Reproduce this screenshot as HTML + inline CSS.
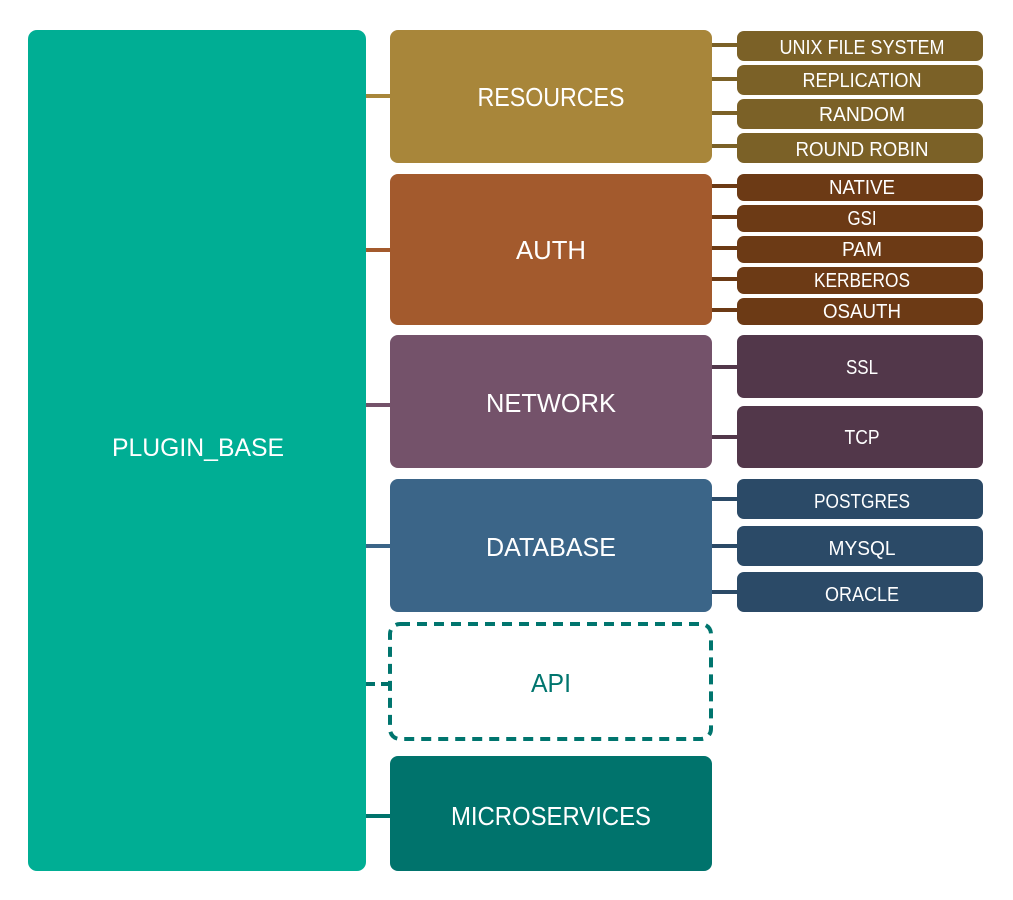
<!DOCTYPE html>
<html><head><meta charset="utf-8"><style>html,body{margin:0;padding:0;background:#fff}svg{display:block}</style></head>
<body>
<svg width="1013" height="900" viewBox="0 0 1013 900" xmlns="http://www.w3.org/2000/svg" font-family="Liberation Sans, sans-serif" text-anchor="middle">
<rect x="28" y="30" width="338" height="841" rx="9" fill="#00ae94"/>
<text x="198" y="456" font-size="25" fill="#fff" textLength="172" lengthAdjust="spacingAndGlyphs">PLUGIN_BASE</text>

<g stroke-width="4">
<line x1="366" y1="96" x2="390" y2="96" stroke="#a8863a"/>
<line x1="366" y1="250" x2="390" y2="250" stroke="#a35a2d"/>
<line x1="366" y1="405" x2="390" y2="405" stroke="#74526a"/>
<line x1="366" y1="546" x2="390" y2="546" stroke="#3b6588"/>
<line x1="366" y1="684" x2="390" y2="684" stroke="#00736c" stroke-dasharray="9,6"/>
<line x1="366" y1="816" x2="390" y2="816" stroke="#00736c"/>
</g>

<rect x="390" y="30" width="322" height="133" rx="8" fill="#a8863a"/>
<text x="551" y="106" font-size="26" fill="#fff" textLength="147" lengthAdjust="spacingAndGlyphs">RESOURCES</text>
<rect x="390" y="174" width="322" height="151" rx="8" fill="#a35a2d"/>
<text x="551" y="259" font-size="26" fill="#fff" textLength="70" lengthAdjust="spacingAndGlyphs">AUTH</text>
<rect x="390" y="335" width="322" height="133" rx="8" fill="#74526a"/>
<text x="551" y="412" font-size="26" fill="#fff" textLength="130" lengthAdjust="spacingAndGlyphs">NETWORK</text>
<rect x="390" y="479" width="322" height="133" rx="8" fill="#3b6588"/>
<text x="551" y="556" font-size="26" fill="#fff" textLength="130" lengthAdjust="spacingAndGlyphs">DATABASE</text>
<rect x="390" y="624" width="321" height="115" rx="10" fill="#fff" stroke="#00756e" stroke-width="4" stroke-dasharray="10,7"/>
<text x="551" y="692" font-size="26" fill="#00756e" textLength="40" lengthAdjust="spacingAndGlyphs">API</text>
<rect x="390" y="756" width="322" height="115" rx="8" fill="#00736c"/>
<text x="551" y="825" font-size="26" fill="#fff" textLength="200" lengthAdjust="spacingAndGlyphs">MICROSERVICES</text>

<g stroke-width="4">
<g stroke="#7b6127">
<line x1="712" y1="45" x2="737" y2="45"/><line x1="712" y1="79" x2="737" y2="79"/><line x1="712" y1="113" x2="737" y2="113"/><line x1="712" y1="146" x2="737" y2="146"/>
</g>
<g stroke="#6c3a15">
<line x1="712" y1="186" x2="737" y2="186"/><line x1="712" y1="217" x2="737" y2="217"/><line x1="712" y1="248" x2="737" y2="248"/><line x1="712" y1="279" x2="737" y2="279"/><line x1="712" y1="310" x2="737" y2="310"/>
</g>
<g stroke="#52374a">
<line x1="712" y1="367" x2="737" y2="367"/><line x1="712" y1="437" x2="737" y2="437"/>
</g>
<g stroke="#2b4a67">
<line x1="712" y1="499" x2="737" y2="499"/><line x1="712" y1="546" x2="737" y2="546"/><line x1="712" y1="592" x2="737" y2="592"/>
</g>
</g>

<g font-size="20" fill="#fff">
<rect x="737" y="31" width="246" height="30" rx="7" fill="#7b6127"/><text x="862" y="54" fill="#fff" textLength="165" lengthAdjust="spacingAndGlyphs">UNIX FILE SYSTEM</text>
<rect x="737" y="65" width="246" height="30" rx="7" fill="#7b6127"/><text x="862" y="87" fill="#fff" textLength="119" lengthAdjust="spacingAndGlyphs">REPLICATION</text>
<rect x="737" y="99" width="246" height="30" rx="7" fill="#7b6127"/><text x="862" y="121" fill="#fff" textLength="86" lengthAdjust="spacingAndGlyphs">RANDOM</text>
<rect x="737" y="133" width="246" height="30" rx="7" fill="#7b6127"/><text x="862" y="156" fill="#fff" textLength="133" lengthAdjust="spacingAndGlyphs">ROUND ROBIN</text>

<rect x="737" y="174" width="246" height="27" rx="7" fill="#6c3a15"/><text x="862" y="194" fill="#fff" textLength="66" lengthAdjust="spacingAndGlyphs">NATIVE</text>
<rect x="737" y="205" width="246" height="27" rx="7" fill="#6c3a15"/><text x="862" y="225" fill="#fff" textLength="29" lengthAdjust="spacingAndGlyphs">GSI</text>
<rect x="737" y="236" width="246" height="27" rx="7" fill="#6c3a15"/><text x="862" y="256" fill="#fff" textLength="40" lengthAdjust="spacingAndGlyphs">PAM</text>
<rect x="737" y="267" width="246" height="27" rx="7" fill="#6c3a15"/><text x="862" y="287" fill="#fff" textLength="96" lengthAdjust="spacingAndGlyphs">KERBEROS</text>
<rect x="737" y="298" width="246" height="27" rx="7" fill="#6c3a15"/><text x="862" y="318" fill="#fff" textLength="78" lengthAdjust="spacingAndGlyphs">OSAUTH</text>

<rect x="737" y="335" width="246" height="63" rx="7" fill="#52374a"/><text x="862" y="374" fill="#fff" textLength="32" lengthAdjust="spacingAndGlyphs">SSL</text>
<rect x="737" y="406" width="246" height="62" rx="7" fill="#52374a"/><text x="862" y="444" fill="#fff" textLength="35" lengthAdjust="spacingAndGlyphs">TCP</text>

<rect x="737" y="479" width="246" height="40" rx="7" fill="#2b4a67"/><text x="862" y="508" fill="#fff" textLength="96" lengthAdjust="spacingAndGlyphs">POSTGRES</text>
<rect x="737" y="526" width="246" height="40" rx="7" fill="#2b4a67"/><text x="862" y="555" fill="#fff" textLength="67" lengthAdjust="spacingAndGlyphs">MYSQL</text>
<rect x="737" y="572" width="246" height="40" rx="7" fill="#2b4a67"/><text x="862" y="601" fill="#fff" textLength="74" lengthAdjust="spacingAndGlyphs">ORACLE</text>
</g>
</svg>
</body></html>
